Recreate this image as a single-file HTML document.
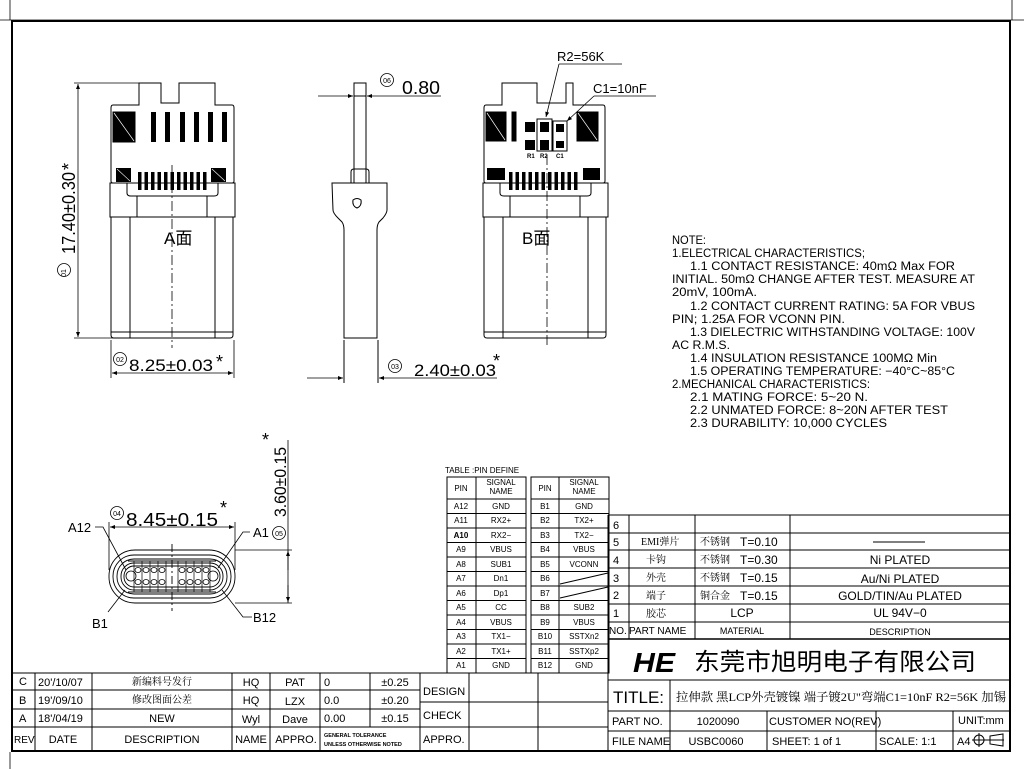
<!DOCTYPE html>
<html><head><meta charset="utf-8"><style>
html,body{margin:0;padding:0;background:#fff;}
svg{display:block;}
text{font-family:"Liberation Sans","Noto Sans CJK SC",sans-serif;fill:#000;}
.s{font-family:"Liberation Serif","Noto Serif CJK SC",serif;}
</style></head><body>
<svg width="1024" height="769" viewBox="0 0 1024 769" xmlns="http://www.w3.org/2000/svg">
<defs>
<marker id="ar" viewBox="0 0 10 10" refX="10" refY="5" markerWidth="12" markerHeight="5" markerUnits="userSpaceOnUse" orient="auto-start-reverse"><path d="M0,1 L10,5 L0,9 z" fill="#000"/></marker>
</defs>
<!-- frame -->
<line x1="0" y1="20" x2="1024" y2="20" stroke="#000" stroke-width="0.8"/>
<line x1="10" y1="0" x2="10" y2="20" stroke="#000" stroke-width="0.8"/>
<line x1="1012" y1="0" x2="1012" y2="20" stroke="#000" stroke-width="0.8"/>
<rect x="12" y="21" width="998" height="730" fill="none" stroke="#000" stroke-width="2"/>
<line x1="10" y1="752" x2="10" y2="769" stroke="#000" stroke-width="0.8"/>

<!-- A side view -->
<g id="va" fill="none" stroke="#000" stroke-width="1">
<path d="M113,105 H139 V83 H161 V103 H179 V83 H215 V105 H232 Q234,105 234,108 V181 Q234,183 232,183 H113 Q111,183 111,181 V108 Q111,105 113,105 Z"/>
<rect x="113" y="112" width="22" height="30" fill="#000"/>
<line x1="114" y1="113" x2="134" y2="141" stroke="#fff" stroke-width="0.7"/>
<g fill="#000" stroke="none">
<rect x="151" y="112" width="5" height="30"/><rect x="165" y="112" width="5" height="30"/><rect x="180" y="112" width="5" height="30"/><rect x="194" y="112" width="5" height="30"/><rect x="208" y="112" width="5" height="30"/><rect x="222" y="112" width="5" height="30"/>
<rect x="116" y="168" width="15" height="14"/><rect x="211" y="168" width="15" height="14"/>
<rect x="138" y="172" width="3.5" height="18"/><rect x="144.5" y="172" width="3.5" height="18"/><rect x="151" y="172" width="3.5" height="18"/><rect x="157.5" y="172" width="3.5" height="18"/><rect x="164" y="172" width="3.5" height="18"/><rect x="170.5" y="172" width="3.5" height="18"/><rect x="177" y="172" width="3.5" height="18"/><rect x="183.5" y="172" width="3.5" height="18"/><rect x="190" y="172" width="3.5" height="18"/><rect x="196.5" y="172" width="3.5" height="18"/><rect x="203" y="172" width="3.5" height="18"/>
</g>
<line x1="117" y1="169" x2="130" y2="181" stroke="#fff" stroke-width="0.6"/><line x1="212" y1="169" x2="225" y2="181" stroke="#fff" stroke-width="0.6"/>
<rect x="110" y="183" width="125" height="34"/>
<path d="M127,183 V193 Q127,196 131,196 H214 Q218,196 218,193 V183"/>
<line x1="137" y1="196" x2="137" y2="217"/><line x1="207" y1="196" x2="207" y2="217"/>
<path d="M111,217 V335 Q111,338 114,338 H230 Q233,338 233,335 V217"/>
<line x1="130" y1="217" x2="130" y2="338"/><line x1="215" y1="217" x2="215" y2="338"/>
<line x1="111" y1="332" x2="233" y2="332"/>
<line x1="172" y1="165" x2="172" y2="348" stroke-dasharray="10,3,2,3" stroke-width="0.8"/>
</g>
<text x="164" y="244" font-size="17">A面</text>
<!-- dim 17.40 -->
<g stroke="#000" stroke-width="0.8" fill="none">
<line x1="74" y1="83" x2="139" y2="83"/><line x1="74" y1="338" x2="145" y2="338"/>
<line x1="78" y1="84" x2="78" y2="337" marker-start="url(#ar)" marker-end="url(#ar)"/>
<line x1="111" y1="340" x2="111" y2="378"/><line x1="234" y1="340" x2="234" y2="378"/>
<line x1="112" y1="373" x2="233" y2="373" marker-start="url(#ar)" marker-end="url(#ar)"/>
<circle cx="64" cy="270" r="6.5"/>
<circle cx="120" cy="359" r="6.5"/>
</g>
<text transform="translate(75,254) rotate(-90)" font-size="18" textLength="82" lengthAdjust="spacingAndGlyphs">17.40±0.30</text>
<text transform="translate(75,170) rotate(-90)" font-size="18">*</text>
<text transform="translate(66,273) rotate(-90)" font-size="7" text-anchor="middle">01</text>
<text x="120" y="362" font-size="7" text-anchor="middle">02</text>
<text x="129" y="371" font-size="17" textLength="84" lengthAdjust="spacingAndGlyphs">8.25±0.03</text>
<text x="216" y="368" font-size="18">*</text>

<!-- side view -->
<g fill="none" stroke="#000" stroke-width="1">
<rect x="354" y="83" width="12" height="100"/>
<line x1="354" y1="96" x2="366" y2="96"/>
<path d="M351,183 V172 Q351,169 354,169 H366 Q369,169 369,172 V183"/>
<path d="M332,183 H387 V210 Q387,213 383,218 L379,222 Q377,225 377,230 V338 H344 V230 Q344,225 342,222 L338,218 Q333,213 333,210 Z"/>
<path d="M353,200 Q357,197 361,200 Q362,206 357,208 Q352,206 353,200 Z"/>
<line x1="344" y1="340" x2="344" y2="383"/><line x1="378" y1="340" x2="378" y2="383"/>
</g>
<g stroke="#000" stroke-width="0.8" fill="none">
<line x1="318" y1="96" x2="353" y2="96" marker-end="url(#ar)"/>
<line x1="441" y1="96" x2="367" y2="96" marker-end="url(#ar)"/>
<line x1="307" y1="378" x2="343" y2="378" marker-end="url(#ar)"/>
<line x1="497" y1="378" x2="379" y2="378" marker-end="url(#ar)"/>
<circle cx="387" cy="80" r="6.5"/><circle cx="395" cy="366" r="6.5"/>
</g>
<text x="387" y="83" font-size="7" text-anchor="middle">06</text>
<text x="395" y="369" font-size="7" text-anchor="middle">03</text>
<text x="402" y="94" font-size="18" textLength="38" lengthAdjust="spacingAndGlyphs">0.80</text>
<text x="414" y="376" font-size="17" textLength="82" lengthAdjust="spacingAndGlyphs">2.40±0.03</text>
<text x="493" y="367" font-size="18">*</text>

<!-- B side view -->
<g fill="none" stroke="#000" stroke-width="1">
<path d="M486,105 H502 V83 H537 V103 H566 V83 H573 V105 H603 Q605,105 605,108 V181 Q605,183 603,183 H486 Q484,183 484,181 V108 Q484,105 486,105 Z"/>
<rect x="486" y="112" width="20" height="29" fill="#000"/><line x1="487" y1="113" x2="505" y2="140" stroke="#fff" stroke-width="0.7"/>
<rect x="577" y="112" width="21" height="29" fill="#000"/><line x1="578" y1="113" x2="597" y2="140" stroke="#fff" stroke-width="0.7"/>
<rect x="512" y="112" width="4" height="29" fill="#000"/>
<rect x="537" y="119" width="15" height="32"/><rect x="553" y="121" width="14" height="30"/>
<g fill="#000" stroke="none">
<rect x="525" y="122" width="10" height="10"/><rect x="525" y="140" width="10" height="10"/>
<rect x="540" y="122" width="9" height="10"/><rect x="540" y="140" width="9" height="10"/>
<rect x="556" y="124" width="8" height="8"/><rect x="556" y="141" width="8" height="7"/>
<rect x="487" y="168" width="18" height="12"/><rect x="583" y="168" width="17" height="12"/>
<rect x="509" y="172" width="3.5" height="18"/><rect x="515.5" y="172" width="3.5" height="18"/><rect x="522" y="172" width="3.5" height="18"/><rect x="528.5" y="172" width="3.5" height="18"/><rect x="535" y="172" width="3.5" height="18"/><rect x="541.5" y="172" width="3.5" height="18"/><rect x="548" y="172" width="3.5" height="18"/><rect x="554.5" y="172" width="3.5" height="18"/><rect x="561" y="172" width="3.5" height="18"/><rect x="567.5" y="172" width="3.5" height="18"/><rect x="574" y="172" width="3.5" height="18"/>
</g>
<rect x="483" y="183" width="125" height="34"/>
<path d="M500,183 V193 Q500,196 504,196 H587 Q591,196 591,193 V183"/>
<line x1="510" y1="196" x2="510" y2="217"/><line x1="580" y1="196" x2="580" y2="217"/>
<path d="M484,217 V335 Q484,338 487,338 H603 Q606,338 606,335 V217"/>
<line x1="503" y1="217" x2="503" y2="338"/><line x1="588" y1="217" x2="588" y2="338"/>
<line x1="484" y1="332" x2="606" y2="332"/>
<line x1="547" y1="155" x2="547" y2="348" stroke-dasharray="10,3,2,3" stroke-width="0.8"/>
</g>
<text x="527" y="158" font-size="6" font-weight="bold">R1</text>
<text x="540" y="158" font-size="6" font-weight="bold">R2</text>
<text x="556" y="158" font-size="6" font-weight="bold">C1</text>
<text x="522" y="244" font-size="17">B面</text>
<g stroke="#000" stroke-width="0.8" fill="none">
<line x1="622" y1="64" x2="559" y2="64"/><line x1="559" y1="64" x2="546" y2="117" marker-end="url(#ar)"/>
<line x1="656" y1="96" x2="594" y2="96"/><line x1="594" y1="96" x2="567" y2="121" marker-end="url(#ar)"/>
</g>
<text x="557" y="61" font-size="13">R2=56K</text>
<text x="593" y="93" font-size="13">C1=10nF</text>

<!-- notes -->
<g font-size="11.5">
<text x="672" y="244" textLength="34" lengthAdjust="spacingAndGlyphs">NOTE:</text>
<text x="672" y="257" textLength="193" lengthAdjust="spacingAndGlyphs">1.ELECTRICAL  CHARACTERISTICS;</text>
<text x="690" y="270" textLength="265" lengthAdjust="spacingAndGlyphs">1.1  CONTACT  RESISTANCE:  40mΩ  Max  FOR</text>
<text x="672" y="283" textLength="303" lengthAdjust="spacingAndGlyphs">INITIAL.  50mΩ  CHANGE  AFTER  TEST.  MEASURE  AT</text>
<text x="672" y="296" textLength="85" lengthAdjust="spacingAndGlyphs">20mV,  100mA.</text>
<text x="690" y="310" textLength="285" lengthAdjust="spacingAndGlyphs">1.2  CONTACT  CURRENT  RATING:  5A  FOR  VBUS</text>
<text x="672" y="323" textLength="173" lengthAdjust="spacingAndGlyphs">PIN;  1.25A  FOR  VCONN  PIN.</text>
<text x="690" y="336" textLength="285" lengthAdjust="spacingAndGlyphs">1.3  DIELECTRIC  WITHSTANDING  VOLTAGE:  100V</text>
<text x="672" y="349" textLength="58" lengthAdjust="spacingAndGlyphs">AC  R.M.S.</text>
<text x="690" y="362" textLength="247" lengthAdjust="spacingAndGlyphs">1.4  INSULATION  RESISTANCE  100MΩ  Min</text>
<text x="690" y="375" textLength="265" lengthAdjust="spacingAndGlyphs">1.5  OPERATING  TEMPERATURE:  −40°C~85°C</text>
<text x="672" y="388" textLength="198" lengthAdjust="spacingAndGlyphs">2.MECHANICAL  CHARACTERISTICS:</text>
<text x="690" y="401" textLength="178" lengthAdjust="spacingAndGlyphs">2.1  MATING  FORCE:  5~20  N.</text>
<text x="690" y="414" textLength="258" lengthAdjust="spacingAndGlyphs">2.2  UNMATED  FORCE:  8~20N  AFTER  TEST</text>
<text x="690" y="427" textLength="197" lengthAdjust="spacingAndGlyphs">2.3  DURABILITY:  10,000  CYCLES</text>
</g>

<!-- front view -->
<g fill="none" stroke="#000" stroke-width="0.9">
<rect x="109" y="550" width="126" height="53" rx="26"/>
<rect x="113" y="555" width="118" height="43" rx="21"/>
<rect x="117" y="559" width="110" height="35" rx="17"/>
<rect x="121" y="563" width="102" height="27" rx="13"/>
<rect x="124" y="566" width="96" height="21" rx="10"/>
<line x1="128" y1="561" x2="216" y2="561"/><line x1="128" y1="592" x2="216" y2="592"/>
<g stroke-width="0.7">
<line x1="134" y1="561" x2="134" y2="592"/><line x1="142" y1="561" x2="142" y2="592"/><line x1="150" y1="561" x2="150" y2="592"/><line x1="158" y1="561" x2="158" y2="592"/><line x1="166" y1="561" x2="166" y2="592"/><line x1="178" y1="561" x2="178" y2="592"/><line x1="186" y1="561" x2="186" y2="592"/><line x1="194" y1="561" x2="194" y2="592"/><line x1="202" y1="561" x2="202" y2="592"/><line x1="210" y1="561" x2="210" y2="592"/>
</g>
<g stroke-width="0.8">
<ellipse cx="131" cy="576" rx="5" ry="5"/><ellipse cx="138" cy="570" rx="3" ry="2.5"/><ellipse cx="138" cy="582" rx="3" ry="2.5"/><ellipse cx="146" cy="570" rx="3" ry="2.5"/><ellipse cx="146" cy="582" rx="3" ry="2.5"/><ellipse cx="154" cy="570" rx="3" ry="2.5"/><ellipse cx="154" cy="582" rx="3" ry="2.5"/><ellipse cx="162" cy="570" rx="3" ry="2.5"/><ellipse cx="162" cy="582" rx="3" ry="2.5"/><ellipse cx="182" cy="570" rx="3" ry="2.5"/><ellipse cx="182" cy="582" rx="3" ry="2.5"/><ellipse cx="190" cy="570" rx="3" ry="2.5"/><ellipse cx="190" cy="582" rx="3" ry="2.5"/><ellipse cx="198" cy="570" rx="3" ry="2.5"/><ellipse cx="198" cy="582" rx="3" ry="2.5"/><ellipse cx="206" cy="570" rx="3" ry="2.5"/><ellipse cx="206" cy="582" rx="3" ry="2.5"/><ellipse cx="213" cy="576" rx="5" ry="5"/>
</g>
<line x1="172" y1="544" x2="172" y2="611" stroke-dasharray="8,3,2,3"/>
</g>
<g stroke="#000" stroke-width="0.8" fill="none">
<line x1="109" y1="522" x2="109" y2="570"/><line x1="235" y1="522" x2="235" y2="570"/>
<line x1="110" y1="527" x2="234" y2="527" marker-start="url(#ar)" marker-end="url(#ar)"/>
<line x1="235" y1="550" x2="292" y2="550"/><line x1="235" y1="603" x2="292" y2="603"/>
<line x1="288" y1="440" x2="288" y2="603"/>
<line x1="288" y1="570" x2="288" y2="551" marker-end="url(#ar)"/>
<line x1="288" y1="585" x2="288" y2="602" marker-end="url(#ar)"/>
<polyline points="95,527 103,527 126,570"/>
<polyline points="250,532 243,532 218,568"/>
<polyline points="108,612 125,590"/>
<polyline points="252,617 243,617 222,590"/>
<circle cx="117" cy="513" r="6.5"/><circle cx="279" cy="533" r="6.5"/>
</g>
<text x="117" y="516" font-size="7" text-anchor="middle">04</text>
<text x="279" y="536" font-size="7" text-anchor="middle">05</text>
<text x="126" y="526" font-size="18" textLength="92" lengthAdjust="spacingAndGlyphs">8.45±0.15</text>
<text x="220" y="514" font-size="18">*</text>
<text transform="translate(286,517) rotate(-90)" font-size="17" textLength="70" lengthAdjust="spacingAndGlyphs">3.60±0.15</text>
<text x="262" y="446" font-size="18">*</text>
<text x="68" y="532" font-size="13">A12</text>
<text x="253" y="537" font-size="13">A1</text>
<text x="92" y="628" font-size="13">B1</text>
<text x="253" y="622" font-size="13">B12</text>

<!-- pin table -->
<text x="445" y="473" font-size="8">TABLE :PIN DEFINE</text>
<g fill="none" stroke="#000" stroke-width="1">
<rect x="447" y="477" width="79" height="196"/>
<rect x="531" y="477" width="78" height="196"/>
<line x1="476" y1="477" x2="476" y2="673"/><line x1="559" y1="477" x2="559" y2="673"/>
<path d="M447,499H526M447,513.5H526M447,528H526M447,542.5H526M447,557H526M447,571.5H526M447,586H526M447,600.5H526M447,615H526M447,629.5H526M447,644H526M447,658.5H526"/>
<path d="M531,499H609M531,513.5H609M531,528H609M531,542.5H609M531,557H609M531,571.5H609M531,586H609M531,600.5H609M531,615H609M531,629.5H609M531,644H609M531,658.5H609"/>
<line x1="560" y1="584" x2="608" y2="573"/><line x1="560" y1="598" x2="608" y2="587"/>
</g>
<g font-size="8" text-anchor="middle">
<text x="461" y="491">PIN</text><text x="501" y="485">SIGNAL</text><text x="501" y="494">NAME</text>
<text x="545" y="491">PIN</text><text x="584" y="485">SIGNAL</text><text x="584" y="494">NAME</text>
<text x="461" y="509">A12</text><text x="501" y="509">GND</text><text x="545" y="509">B1</text><text x="584" y="509">GND</text>
<text x="461" y="523">A11</text><text x="501" y="523">RX2+</text><text x="545" y="523">B2</text><text x="584" y="523">TX2+</text>
<text x="461" y="538" font-weight="bold">A10</text><text x="501" y="538">RX2−</text><text x="545" y="538">B3</text><text x="584" y="538">TX2−</text>
<text x="461" y="552">A9</text><text x="501" y="552">VBUS</text><text x="545" y="552">B4</text><text x="584" y="552">VBUS</text>
<text x="461" y="567">A8</text><text x="501" y="567">SUB1</text><text x="545" y="567">B5</text><text x="584" y="567">VCONN</text>
<text x="461" y="581">A7</text><text x="501" y="581">Dn1</text><text x="545" y="581">B6</text>
<text x="461" y="596">A6</text><text x="501" y="596">Dp1</text><text x="545" y="596">B7</text>
<text x="461" y="610">A5</text><text x="501" y="610">CC</text><text x="545" y="610">B8</text><text x="584" y="610">SUB2</text>
<text x="461" y="625">A4</text><text x="501" y="625">VBUS</text><text x="545" y="625">B9</text><text x="584" y="625">VBUS</text>
<text x="461" y="639">A3</text><text x="501" y="639">TX1−</text><text x="545" y="639">B10</text><text x="584" y="639">SSTXn2</text>
<text x="461" y="654">A2</text><text x="501" y="654">TX1+</text><text x="545" y="654">B11</text><text x="584" y="654">SSTXp2</text>
<text x="461" y="668">A1</text><text x="501" y="668">GND</text><text x="545" y="668">B12</text><text x="584" y="668">GND</text>
</g>

<!-- material table -->
<g fill="none" stroke="#000" stroke-width="1">
<line x1="608" y1="515" x2="1010" y2="515"/>
<path d="M608,533H1010M608,550H1010M608,568H1010M608,586H1010M608,604H1010M608,622H1010"/>
<line x1="608" y1="639" x2="1010" y2="639" stroke-width="1.6"/>
<line x1="608" y1="515" x2="608" y2="751"/>
<line x1="629" y1="515" x2="629" y2="639"/><line x1="695" y1="515" x2="695" y2="639"/><line x1="790" y1="515" x2="790" y2="639"/>
<line x1="873" y1="542" x2="925" y2="542" stroke-width="1"/>
<line x1="608" y1="680" x2="1010" y2="680"/>
<line x1="608" y1="711" x2="1010" y2="711"/>
<line x1="608" y1="731" x2="1010" y2="731"/>
<line x1="670" y1="680" x2="670" y2="751"/>
<line x1="767" y1="711" x2="767" y2="751"/><line x1="876" y1="711" x2="876" y2="751"/><line x1="953" y1="711" x2="953" y2="751"/>
</g>
<g font-size="11">
<text x="613" y="529">6</text>
<text x="613" y="546">5</text><text x="641" y="545" class="s" font-size="10">EMI弹片</text><text x="700" y="545" class="s" font-size="10">不锈钢</text><text x="740" y="546" font-size="12">T=0.10</text>
<text x="613" y="564">4</text><text x="646" y="563" class="s" font-size="10">卡钩</text><text x="700" y="563" class="s" font-size="10">不锈钢</text><text x="740" y="564" font-size="12">T=0.30</text><text x="900" y="564" font-size="12" text-anchor="middle">Ni  PLATED</text>
<text x="613" y="582">3</text><text x="646" y="581" class="s" font-size="10">外壳</text><text x="700" y="581" class="s" font-size="10">不锈钢</text><text x="740" y="582" font-size="12">T=0.15</text><text x="900" y="583" font-size="12" text-anchor="middle">Au/Ni  PLATED</text>
<text x="613" y="599">2</text><text x="646" y="599" class="s" font-size="10">端子</text><text x="700" y="599" class="s" font-size="10">铜合金</text><text x="740" y="600" font-size="12">T=0.15</text><text x="900" y="600" font-size="12" text-anchor="middle">GOLD/TIN/Au  PLATED</text>
<text x="613" y="617">1</text><text x="646" y="617" class="s" font-size="10">胶芯</text><text x="742" y="617" font-size="12" text-anchor="middle">LCP</text><text x="900" y="617" font-size="12" text-anchor="middle">UL  94V−0</text>
<text x="609" y="634" font-size="10">NO.</text><text x="629" y="634" font-size="10">PART NAME</text><text x="742" y="634" font-size="9" text-anchor="middle">MATERIAL</text><text x="900" y="635" font-size="9" text-anchor="middle">DESCRIPTION</text>
</g>
<text x="633" y="672" font-family="Liberation Serif,serif" font-size="28" font-weight="bold" font-style="italic" textLength="42" lengthAdjust="spacingAndGlyphs">HE</text>
<text x="694" y="670" font-size="24" textLength="282" lengthAdjust="spacingAndGlyphs" font-family="Noto Sans CJK SC,sans-serif">东莞市旭明电子有限公司</text>
<text x="613" y="703" font-size="17">TITLE:</text>
<text x="676" y="701" font-size="12" class="s" textLength="330" lengthAdjust="spacingAndGlyphs">拉伸款 黑LCP外壳镀镍 端子镀2U"弯端C1=10nF R2=56K 加锡</text>
<g font-size="11">
<text x="612" y="725">PART  NO.</text><text x="718" y="725" text-anchor="middle">1020090</text><text x="769" y="725">CUSTOMER  NO(REV)</text><text x="958" y="724">UNIT:mm</text>
<text x="612" y="745">FILE  NAME</text><text x="716" y="745" text-anchor="middle">USBC0060</text><text x="772" y="745">SHEET:  1    of    1</text><text x="879" y="745">SCALE: 1:1</text><text x="957" y="745">A4</text>
</g>
<g stroke="#000" stroke-width="1" fill="none"><circle cx="979" cy="740" r="5"/><line x1="972" y1="740" x2="1004" y2="740"/><line x1="979" y1="733" x2="979" y2="747"/><path d="M990,736 L1003,734 V746 L990,744 Z"/></g>

<!-- design block -->
<g fill="none" stroke="#000" stroke-width="1">
<line x1="12" y1="673" x2="608" y2="673"/>
<line x1="12" y1="690" x2="420" y2="690"/><line x1="12" y1="709" x2="420" y2="709"/><line x1="12" y1="727" x2="608" y2="727"/>
<line x1="420" y1="702" x2="608" y2="702"/>
<line x1="35" y1="673" x2="35" y2="751"/><line x1="92" y1="673" x2="92" y2="751"/><line x1="232" y1="673" x2="232" y2="751"/><line x1="270" y1="673" x2="270" y2="751"/><line x1="320" y1="673" x2="320" y2="751"/><line x1="370" y1="673" x2="370" y2="727"/><line x1="420" y1="673" x2="420" y2="751"/><line x1="469" y1="673" x2="469" y2="751"/><line x1="538" y1="673" x2="538" y2="751"/>
</g>
<g font-size="11">
<text x="19" y="685">C</text><text x="38" y="686">20'/10/07</text><text x="162" y="685" class="s" font-size="10" text-anchor="middle">新编料号发行</text><text x="251" y="686" text-anchor="middle">HQ</text><text x="295" y="686" text-anchor="middle">PAT</text><text x="324" y="686">0</text><text x="395" y="686" text-anchor="middle">±0.25</text>
<text x="19" y="704">B</text><text x="38" y="704">19'/09/10</text><text x="162" y="703" class="s" font-size="10" text-anchor="middle">修改图面公差</text><text x="251" y="704" text-anchor="middle">HQ</text><text x="295" y="705" text-anchor="middle">LZX</text><text x="324" y="704">0.0</text><text x="395" y="704" text-anchor="middle">±0.20</text>
<text x="19" y="722">A</text><text x="38" y="722">18'/04/19</text><text x="162" y="722" text-anchor="middle">NEW</text><text x="251" y="723" text-anchor="middle">Wyl</text><text x="295" y="723" text-anchor="middle">Dave</text><text x="324" y="722">0.00</text><text x="395" y="722" text-anchor="middle">±0.15</text>
<text x="14" y="743" font-size="10">REV</text><text x="63" y="743" text-anchor="middle">DATE</text><text x="162" y="743" text-anchor="middle">DESCRIPTION</text><text x="251" y="743" text-anchor="middle">NAME</text><text x="296" y="743" text-anchor="middle">APPRO.</text>
<text x="324" y="737" font-size="5.5" font-weight="bold">GENERAL  TOLERANCE</text><text x="324" y="746" font-size="5.5" font-weight="bold">UNLESS OTHERWISE NOTED</text>
<text x="423" y="695">DESIGN</text><text x="423" y="719">CHECK</text><text x="423" y="743">APPRO.</text>
</g>
</svg>
</body></html>
